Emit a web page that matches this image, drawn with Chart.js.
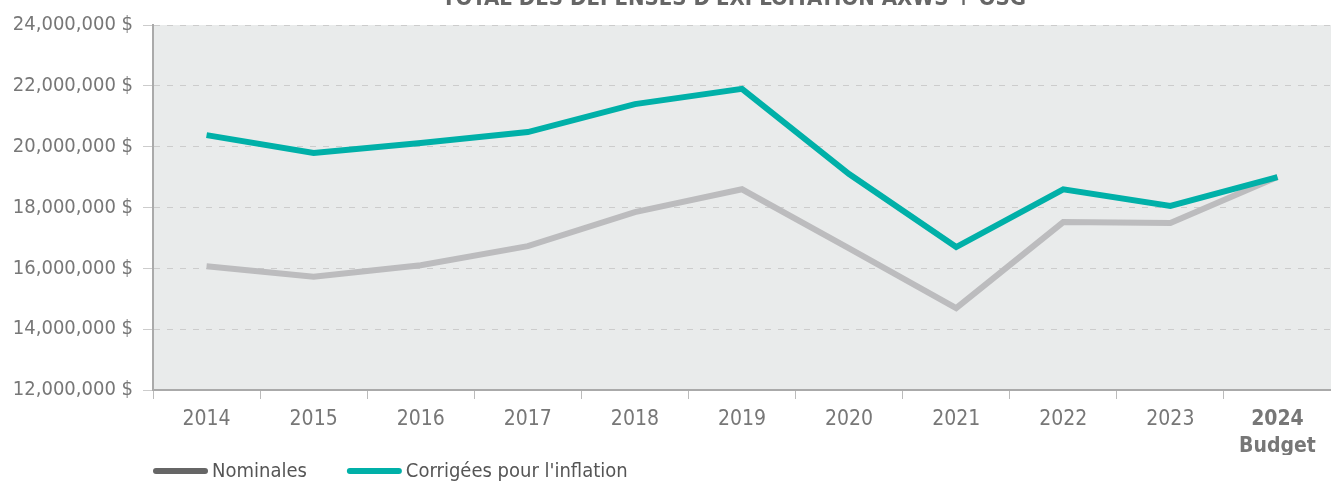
<!DOCTYPE html>
<html>
<head>
<meta charset="utf-8">
<script src="https://cdn.jsdelivr.net/npm/chart.js@4.4.1/dist/chart.umd.min.js"></script>
<style>
  body { margin: 0; background: #fff; }
  canvas { display: block; }
</style>
</head>
<body>
<canvas id="depenses_canvas" width="1331" height="483"></canvas>
<script>
// donnees
const annees = ['2014', '2015', '2016', '2017', '2018', '2019', '2020', '2021', '2022', '2023', ['2024', 'Budget']];
const nominales = [16070000, 15720000, 16100000, 16730000, 17850000, 18600000, 16660000, 14690000, 17520000, 17490000, 19000000];
const corrigees = [20380000, 19790000, 20120000, 20480000, 21400000, 21900000, 19100000, 16700000, 18600000, 18050000, 19000000];
const couleurs_legende = ['#666666', '#00b0a8'];
const titre = "TOTAL DES DÉPENSES D'EXPLOITATION AXWS + OSG";

const police = "'DejaVu Sans Condensed', 'Liberation Sans Narrow', sans-serif";

// fond gris de la zone du graphique, titre coupe en haut, legende en bas
const fond_plugin = {
    id: 'fond',
    beforeDraw(chart) {
        const ctx = chart.ctx;
        const a = chart.chartArea;
        ctx.save();
        ctx.fillStyle = '#e9ebeb';
        ctx.fillRect(a.left, a.top, a.right - a.left, a.bottom - a.top);
        ctx.restore();
    },
    afterDraw(chart) {
        const ctx = chart.ctx;
        ctx.save();
        ctx.font = 'bold 22px ' + police;
        ctx.fillStyle = '#666';
        ctx.textAlign = 'center';
        ctx.textBaseline = 'alphabetic';
        ctx.fillText(titre, 734, 5);

        // legende
        let x = chart.chartArea.left;
        const y = 471;
        ctx.font = '20px ' + police;
        ctx.textAlign = 'left';
        ctx.textBaseline = 'middle';
        ctx.lineCap = 'round';
        ctx.lineWidth = 6;
        chart.data.datasets.forEach((ds, i) => {
            ctx.strokeStyle = couleurs_legende[i];
            ctx.beginPath();
            ctx.moveTo(x + 3, y);
            ctx.lineTo(x + 52, y);
            ctx.stroke();
            ctx.fillStyle = '#555';
            ctx.fillText(ds.label, x + 59, y + 1);
            x += 59 + ctx.measureText(ds.label).width + 40;
        });
        ctx.restore();
    }
};

new Chart(document.getElementById('depenses_canvas'), {
    type: 'line',
    data: {
        labels: annees,
        datasets: [
            {
                label: 'Nominales',
                data: nominales,
                borderColor: '#bcbcbe',
                borderWidth: 6,
                pointRadius: 0,
                tension: 0,
                order: 1
            },
            {
                label: "Corrigées pour l'inflation",
                data: corrigees,
                borderColor: '#00b0a8',
                borderWidth: 6,
                pointRadius: 0,
                tension: 0,
                order: 0
            }
        ]
    },
    options: {
        responsive: false,
        animation: false,
        layout: {padding: {top: 25, right: 0, left: 0, bottom: 28}},
        plugins: {
            tooltip: {enabled: false},
            legend: {display: false}
        },
        scales: {
            x: {
                offset: true,
                afterFit: function (scale) { scale.height = 65; },
                border: {display: true, color: '#aaaaaa', width: 2},
                grid: {
                    offset: true,
                    drawOnChartArea: false,
                    drawTicks: true,
                    tickLength: 9,
                    color: '#bbbbbb'
                },
                ticks: {
                    color: '#777',
                    padding: 7,
                    font: function (ctx) {
                        return {family: police, size: 21, weight: ctx.index === 10 ? 'bold' : 'normal', lineHeight: 1.3};
                    }
                }
            },
            y: {
                min: 12000000,
                max: 24000000,
                afterFit: function (scale) { scale.width = 153; },
                border: {display: true, color: '#aaaaaa', width: 2, dash: [6, 7]},
                grid: {
                    color: '#cccccc',
                    lineWidth: 1,
                    tickLength: 10,
                    tickBorderDash: [7, 0]
                },
                ticks: {
                    stepSize: 2000000,
                    color: '#777',
                    padding: 10,
                    font: {family: police, size: 20},
                    callback: function (v) {
                        return v.toLocaleString('en-US') + ' $';
                    }
                }
            }
        }
    },
    plugins: [fond_plugin]
});
</script>
</body>
</html>
